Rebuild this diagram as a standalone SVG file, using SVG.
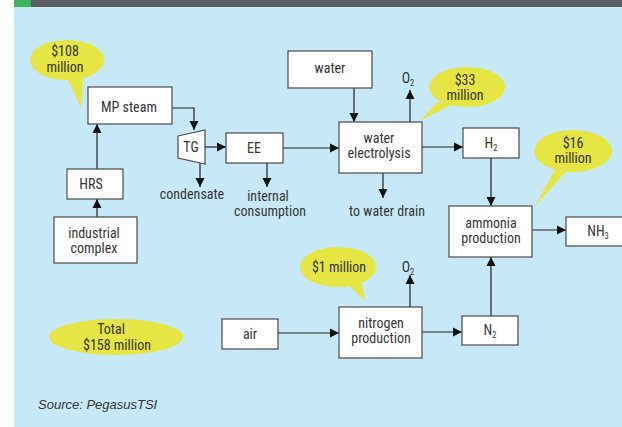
<svg xmlns="http://www.w3.org/2000/svg" width="622" height="427" viewBox="0 0 622 427">
<defs>
<style>
.bg{fill:#c7e9f7}
.box{fill:#ffffff;stroke:#4a4a4a;stroke-width:1.2}
.t{font-family:"Liberation Sans Narrow","Roboto Condensed","Liberation Sans",sans-serif;font-size:14px;fill:#363636;text-anchor:middle}
.sub{font-size:8.5px}
.bub{fill:#e5e543}
.c{fill:none;stroke:#222222;stroke-width:1.2;marker-end:url(#ah)}
.src{font-family:"Liberation Sans Narrow","Liberation Sans",sans-serif;font-size:13px;font-style:italic;fill:#333333}
</style>
<marker id="ah" markerUnits="userSpaceOnUse" markerWidth="10" markerHeight="10" refX="9" refY="5" orient="auto">
<path d="M0,0.5 L9,5 L0,9.5 z" fill="#111111"/>
</marker>
</defs>
<rect x="0" y="0" width="622" height="427" fill="#ffffff"/>
<rect class="bg" x="14" y="7" width="608" height="420"/>
<rect x="14" y="0" width="608" height="7" fill="#5a5e62"/>
<rect x="14" y="0" width="17" height="7" fill="#3db55e"/>

<g id="connectors">
<path class="c" d="M172,108 H194 V130"/>
<path class="c" d="M205,147 H226"/>
<path class="c" d="M200,163 V187"/>
<path class="c" d="M267,163 V187"/>
<path class="c" d="M283,148 H339"/>
<path class="c" d="M97,169 V124"/>
<path class="c" d="M97,217 V199"/>
<path class="c" d="M354,88 V122"/>
<path class="c" d="M410,122 V90"/>
<path class="c" d="M422,147 H463"/>
<path class="c" d="M383,173 V198"/>
<path class="c" d="M491,158 V206"/>
<path class="c" d="M532,230 H566"/>
<path class="c" d="M410,307 V275"/>
<path class="c" d="M278,333 H339"/>
<path class="c" d="M422,332 H462"/>
<path class="c" d="M491,316 V257"/>
</g>

<g id="bubble108">
<ellipse class="bub" cx="67" cy="60" rx="37" ry="20"/>
<polygon class="bub" points="66,76 81,108 83,77"/>
<text class="t" x="65" y="56">$108</text>
<text class="t" x="65" y="72">million</text>
</g>
<g id="bubble33">
<ellipse class="bub" cx="467" cy="87" rx="38" ry="20"/>
<polygon class="bub" points="437,102 421,120 453,104"/>
<text class="t" x="465" y="85">$33</text>
<text class="t" x="465" y="100">million</text>
</g>
<g id="bubble16">
<ellipse class="bub" cx="573" cy="151" rx="39" ry="21"/>
<polygon class="bub" points="557,166 534,207 569,168"/>
<text class="t" x="573" y="148">$16</text>
<text class="t" x="573" y="163">million</text>
</g>
<g id="bubble1">
<ellipse class="bub" cx="338" cy="267" rx="38" ry="20"/>
<polygon class="bub" points="346,283 365,301 361,280"/>
<text class="t" x="339" y="272">$1 million</text>
</g>
<g id="bubbleTotal">
<ellipse class="bub" cx="116" cy="337" rx="67" ry="18"/>
<text class="t" x="111" y="334">Total</text>
<text class="t" x="117" y="350">$158 million</text>
</g>

<g id="mpsteam">
<rect class="box" x="88" y="87" width="84" height="37"/>
<text class="t" x="129" y="112">MP steam</text>
</g>
<g id="tg">
<polygon class="box" points="178,136 205,130 205,164 178,158"/>
<text class="t" x="191" y="152">TG</text>
</g>
<g id="ee">
<rect class="box" x="226" y="133" width="57" height="30"/>
<text class="t" x="254" y="153">EE</text>
</g>
<g id="condensate">
<text class="t" x="192" y="199">condensate</text>
</g>
<g id="internal">
<text class="t" x="268" y="201">internal</text>
<text class="t" x="270" y="216">consumption</text>
</g>
<g id="hrs">
<rect class="box" x="67" y="169" width="56" height="30"/>
<text class="t" x="91" y="189">HRS</text>
</g>
<g id="industrial">
<rect class="box" x="54" y="217" width="83" height="46"/>
<text class="t" x="94" y="238">industrial</text>
<text class="t" x="94" y="253">complex</text>
</g>
<g id="water">
<rect class="box" x="288" y="51" width="84" height="37"/>
<text class="t" x="330" y="73">water</text>
</g>
<g id="electrolysis">
<rect class="box" x="339" y="122" width="83" height="51"/>
<text class="t" x="379" y="143">water</text>
<text class="t" x="379" y="158">electrolysis</text>
</g>
<g id="o2a">
<text class="t" x="408" y="83">O<tspan class="sub" dy="3">2</tspan></text>
</g>
<g id="drain">
<text class="t" x="387" y="216">to water drain</text>
</g>
<g id="h2">
<rect class="box" x="463" y="128" width="56" height="30"/>
<text class="t" x="491" y="148">H<tspan class="sub" dy="3">2</tspan></text>
</g>
<g id="ammonia">
<rect class="box" x="449" y="206" width="83" height="51"/>
<text class="t" x="491" y="228">ammonia</text>
<text class="t" x="491" y="243">production</text>
</g>
<g id="nh3">
<rect class="box" x="566" y="217" width="60" height="29"/>
<text class="t" x="598" y="236">NH<tspan class="sub" dy="3">3</tspan></text>
</g>
<g id="air">
<rect class="box" x="222" y="319" width="56" height="30"/>
<text class="t" x="250" y="339">air</text>
</g>
<g id="nitrogen">
<rect class="box" x="339" y="307" width="83" height="51"/>
<text class="t" x="381" y="328">nitrogen</text>
<text class="t" x="381" y="343">production</text>
</g>
<g id="o2b">
<text class="t" x="408" y="272">O<tspan class="sub" dy="3">2</tspan></text>
</g>
<g id="n2">
<rect class="box" x="462" y="316" width="56" height="29"/>
<text class="t" x="490" y="335">N<tspan class="sub" dy="3">2</tspan></text>
</g>
<text class="src" x="38" y="409">Source: PegasusTSI</text>
</svg>
